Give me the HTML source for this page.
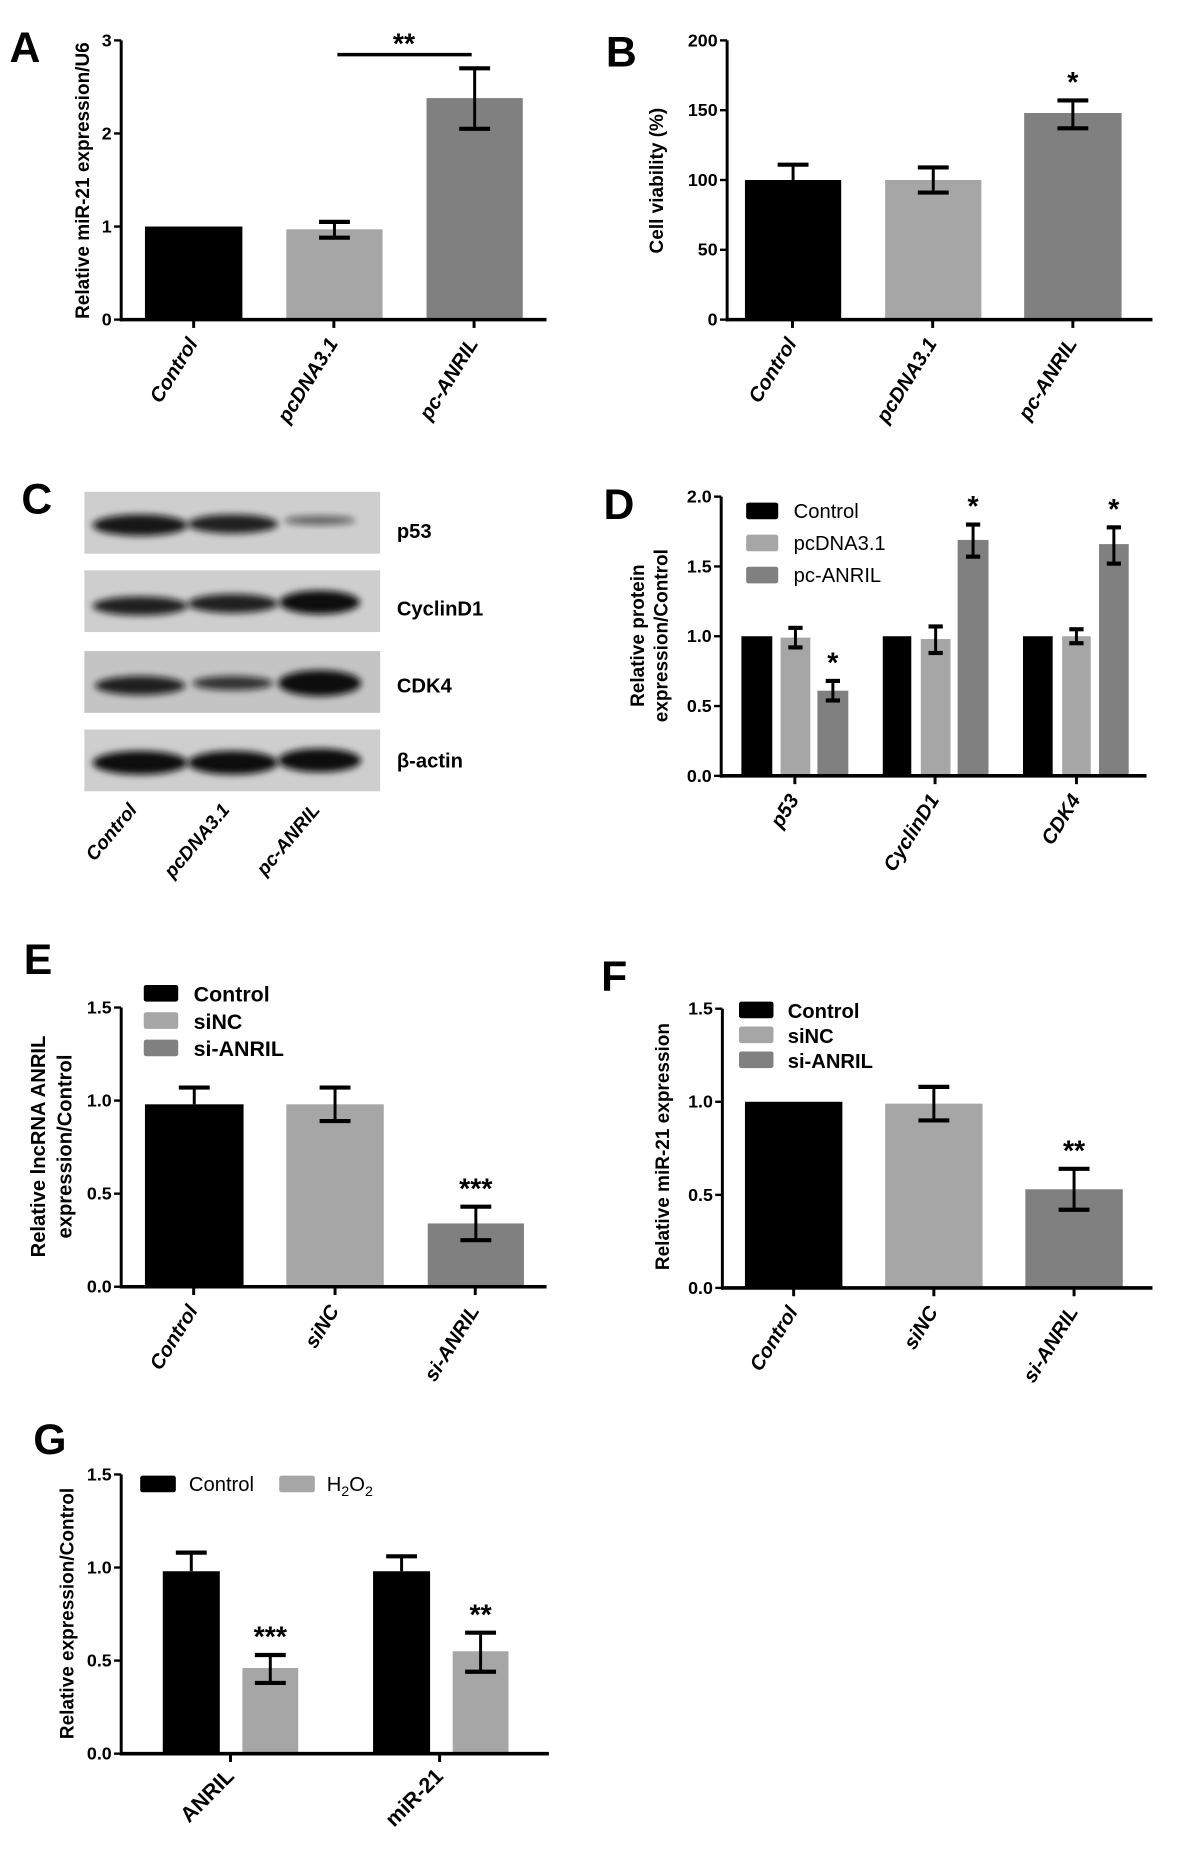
<!DOCTYPE html>
<html><head><meta charset="utf-8"><style>
html,body{margin:0;padding:0;background:#fff;}
svg{display:block;}
text{font-family:"Liberation Sans",Arial,sans-serif;}
</style></head><body>
<svg id="s" width="1200" height="1860" viewBox="0 0 1010 1565.5" xmlns="http://www.w3.org/2000/svg">
<defs>
<filter id="bl" x="-20%" y="-50%" width="140%" height="200%"><feGaussianBlur stdDeviation="3"/></filter>
</defs>
<g id="g"></g>
</svg>
<script>
var o='';
function R(x1,y1,x2,y2,c){o+='<rect x="'+x1+'" y="'+Math.min(y1,y2)+'" width="'+(x2-x1)+'" height="'+Math.abs(y2-y1)+'" fill="'+c+'"/>';}
function L(x1,y1,x2,y2,w){o+='<line x1="'+x1+'" y1="'+y1+'" x2="'+x2+'" y2="'+y2+'" stroke="#000" stroke-width="'+(w||2.5)+'"/>';}
function T(x,y,t,sz,opt){opt=opt||{};o+='<text x="'+x+'" y="'+y+'" font-size="'+sz+'" font-weight="'+(opt.w||'bold')+'" text-anchor="'+(opt.a||'start')+'"'+(opt.i?' font-style="italic"':'')+(opt.r!=null?' transform="rotate('+opt.r+' '+x+' '+y+')"':'')+(opt.f?' fill="'+opt.f+'"':'')+'>'+t+'</text>';}
var K='#000',LG='#a6a6a6',DG='#808080';
function chart(ax,y0,ytop,vmax,xend,ticks,tickFmt,bars,xt,xl,xlopt,xls){
  var sc=(y0-ytop)/vmax;function Y(v){return y0-v*sc;}
  bars.forEach(function(b){R(b[0],Y(b[2]),b[1],y0,b[3]);
    if(b[4]!=null){var cx=(b[0]+b[1])/2,cw=b[6]||13;L(cx,Y(b[4]),cx,Y(b[5]!=null?b[5]:b[2]),2.5);L(cx-cw,Y(b[4]),cx+cw,Y(b[4]),3.5);if(b[5]!=null)L(cx-cw,Y(b[5]),cx+cw,Y(b[5]),3.5);}
    if(b[7])T((b[0]+b[1])/2,Y(b[4])-7,b[7],24,{a:'middle'});});
  L(ax,ytop,ax,y0+1.5,2.5);L(ax-1,y0,xend,y0,3);
  ticks.forEach(function(v){L(ax-6,Y(v),ax,Y(v),2);T(ax-8,Y(v)+5,tickFmt(v),15,{a:'end'});});
  xt.forEach(function(x,i){L(x,y0,x,y0+7,2.5);T(x+4,y0+20,xl[i],xls||17,xlopt);});
  return Y;
}
function f1(v){return v.toFixed(1);}function f0(v){return ''+v;}
var xo={a:'end',i:1,r:-58};
// A
chart(102,269,34,3,460,[0,1,2,3],f0,[[122,204,1,K],[241,322,0.97,LG,1.05,0.88],[359,440,2.38,DG,2.70,2.05]],[163,281,399],['Control','pcDNA3.1','pc-ANRIL'],xo);
L(284,46,397,46,3);T(340,45,'**',24,{a:'middle'});
T(75,152,'Relative miR-21 expression/U6',16,{a:'middle',r:-90});
T(8,52,'A',36,{});
// B
chart(612,269,34,200,970,[0,50,100,150,200],f0,[[627,708,100,K,111],[745,826,100,LG,109,91],[862,944,148,DG,157,137,13,'*']],[667,785,903],['Control','pcDNA3.1','pc-ANRIL'],xo);
T(558,152,'Cell viability (%)',16,{a:'middle',r:-90});
T(510,56,'B',36,{});
// C blots
T(18,432,'C',36,{});
var rows=[[414,466,'p53',447],[480,532,'CyclinD1',512],[548,600,'CDK4',577],[614,666,'β-actin',640]];
var bands=[[[118,442,40,9,0.95],[196,441,38,8,0.9],[269,438,30,4,0.55]],
[[118,510,40,8,0.9],[196,508,38,8,0.9],[269,507,34,10,1]],
[[118,577,38,8,0.9],[196,575,34,6,0.8],[269,575,35,11,1]],
[[118,642,40,10,1],[196,642,38,10,1],[269,640,35,10,1]]];
rows.forEach(function(r,i){R(71,r[0],320,r[1],i==2?'#c4c4c4':'#cecece');
 bands[i].forEach(function(b){o+='<ellipse cx="'+b[0]+'" cy="'+b[1]+'" rx="'+b[2]+'" ry="'+b[3]+'" fill="#111" opacity="'+b[4]+'" filter="url(#bl)"/>';});
 T(334,r[3]+6,r[2],17,{});});
[['Control',116],['pcDNA3.1',194],['pc-ANRIL',270]].forEach(function(l){T(l[1],682,l[0],16,{a:'end',i:1,r:-50});});
// D
chart(607,653,418,2,965,[0,0.5,1,1.5,2],f1,[
[624,650,1,K],[657,682,0.99,LG,1.06,0.92,6],[688,714,0.61,DG,0.68,0.54,6,'*'],
[743,767,1,K],[775,800,0.98,LG,1.07,0.88,6],[806,832,1.69,DG,1.80,1.57,6,'*'],
[861,886,1,K],[894,918,1.0,LG,1.05,0.95,6],[925,950,1.66,DG,1.78,1.52,6,'*']],[669,787,906],['p53','CyclinD1','CDK4'],xo);
[[K,'Control',430],[LG,'pcDNA3.1',457],[DG,'pc-ANRIL',484]].forEach(function(l){o+='<rect x="628" y="'+(l[2]-7)+'" width="27" height="14" rx="2" fill="'+l[0]+'"/>';T(668,l[2]+6,l[1],17,{w:'normal'});});
T(542,535,'Relative protein',16,{a:'middle',r:-90});T(562,535,'expression/Control',16,{a:'middle',r:-90});
T(508,437,'D',36,{});
// E
chart(102,1083,848,1.5,460,[0,0.5,1,1.5],f1,[[122,205,0.98,K,1.07],[241,323,0.98,LG,1.07,0.89],[360,441,0.34,DG,0.43,0.25,13,'***']],[163,282,400],['Control','siNC','si-ANRIL'],xo);
[[K,'Control',836],[LG,'siNC',859],[DG,'si-ANRIL',882]].forEach(function(l){o+='<rect x="121" y="'+(l[2]-7)+'" width="29" height="14" rx="2" fill="'+l[0]+'"/>';T(163,l[2]+7,l[1],18,{});});
T(38,965,'Relative lncRNA ANRIL',17,{a:'middle',r:-90});T(60,965,'expression/Control',17,{a:'middle',r:-90});
T(20,820,'E',36,{});
// F
chart(608,1084,849,1.5,970,[0,0.5,1,1.5],f1,[[627,709,1,K],[745,827,0.99,LG,1.08,0.90],[863,945,0.53,DG,0.64,0.42,13,'**']],[668,786,904],['Control','siNC','si-ANRIL'],xo);
[[K,'Control',850],[LG,'siNC',871],[DG,'si-ANRIL',892]].forEach(function(l){o+='<rect x="622" y="'+(l[2]-7)+'" width="29" height="14" rx="2" fill="'+l[0]+'"/>';T(663,l[2]+7,l[1],17,{});});
T(563,965,'Relative miR-21 expression',16,{a:'middle',r:-90});
T(506,834,'F',36,{});
// G
chart(102,1476,1241,1.5,462,[0,0.5,1,1.5],f1,[[137,185,0.98,K,1.08],[204,251,0.46,LG,0.53,0.38,13,'***'],[314,362,0.98,K,1.06],[381,428,0.55,LG,0.65,0.44,13,'**']],[194,370],['ANRIL','miR-21'],{a:'end',r:-45},18);
o+='<rect x="118" y="1242" width="30" height="14" rx="2" fill="#000"/><rect x="235" y="1242" width="30" height="14" rx="2" fill="'+LG+'"/>';
T(159,1255,'Control',17,{w:'normal'});
o+='<text x="275" y="1255" font-size="17">H<tspan font-size="12" dy="4">2</tspan><tspan dy="-4">O</tspan><tspan font-size="12" dy="4">2</tspan></text>';
T(62,1358,'Relative expression/Control',16,{a:'middle',r:-90});
T(28,1224,'G',36,{});
document.getElementById('g').innerHTML=o;
</script>
</body></html>
